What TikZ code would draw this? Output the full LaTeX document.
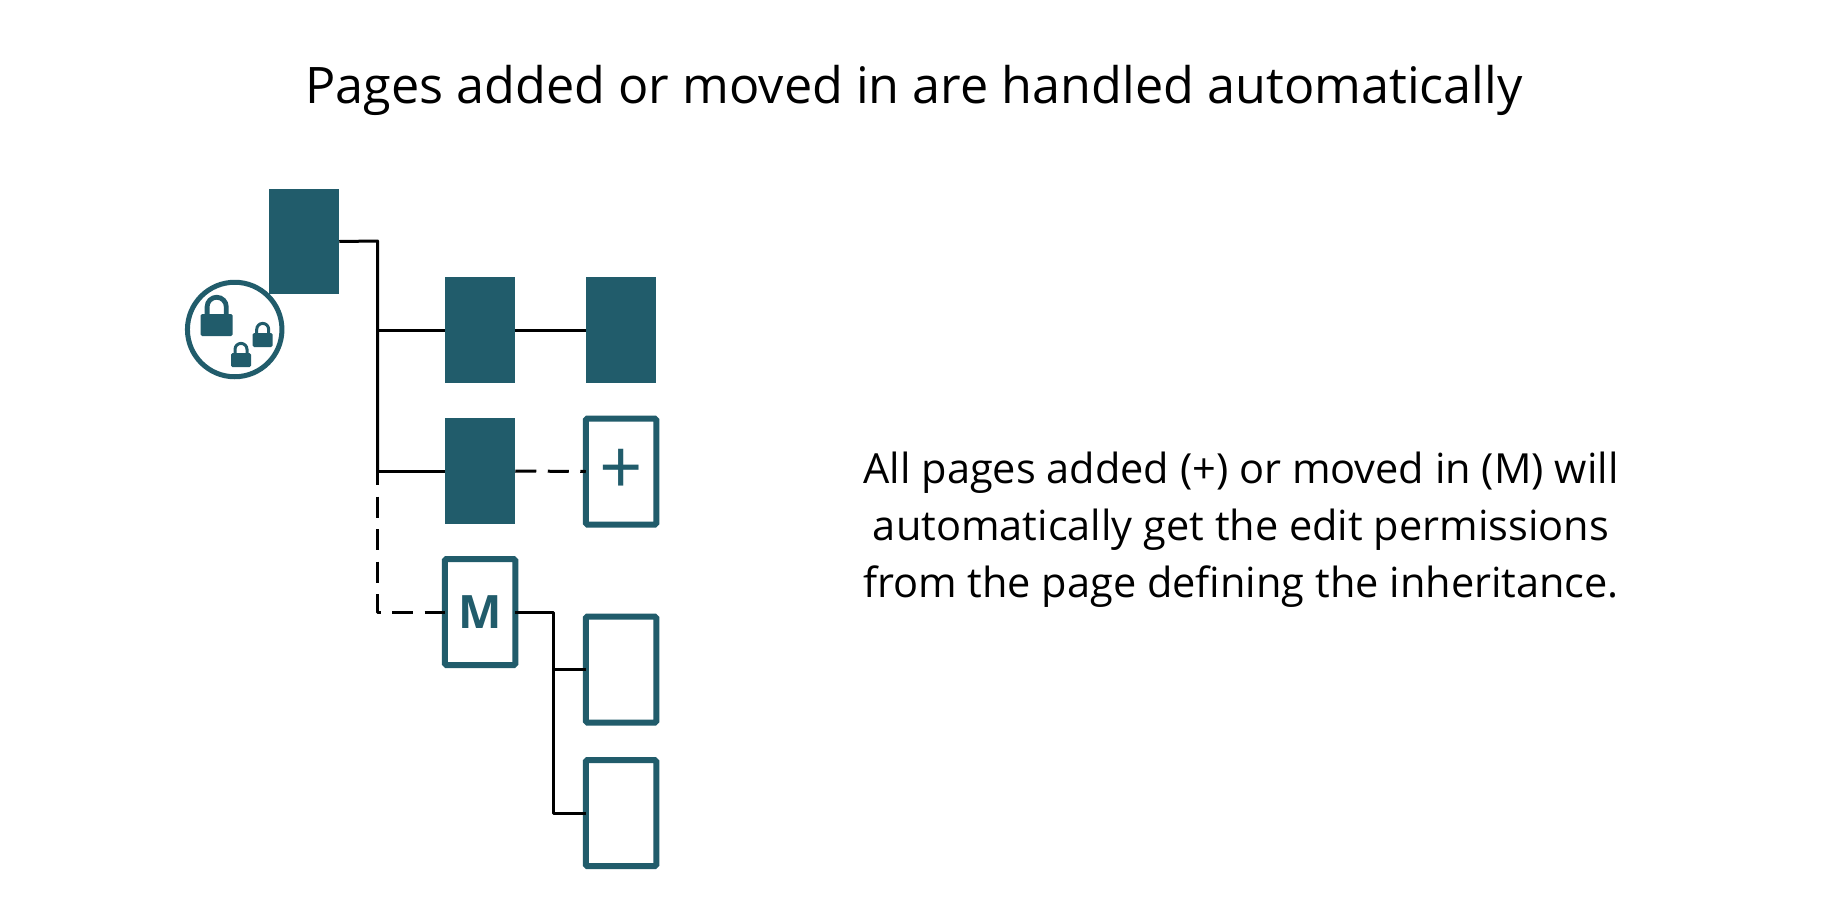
\documentclass[tikz,border=0pt]{standalone}
\usepackage{fontspec}
\setmainfont{Open Sans}
\definecolor{teal1}{HTML}{215C6B}
\tikzset{
  x=1pt,y=-1pt,
  pagefill/.style={fill=teal1,draw=none,minimum width=70.5pt,minimum height=105.5pt,inner sep=0pt,outer sep=0pt},
  pageline/.style={draw=teal1,fill=white,line width=6pt,rounded corners=1.5pt,minimum width=70.5pt,minimum height=106pt,inner sep=0pt,outer sep=0pt,text=teal1},
  conn/.style={black,line width=3pt},
  connd/.style={black,line width=3pt,dash pattern=on 21pt off 11.5pt},
}
\newcommand{\lockicon}[5]{% left, top of body, width, height, shackle top
  \draw[teal1,line width=#3*0.15pt] ({#1+#3*0.2},{#2+1}) -- ({#1+#3*0.2},{#5+#3*0.37}) arc[start angle=180,end angle=0,x radius=#3*0.3pt,y radius=#3*0.3pt] -- ({#1+#3*0.8},{#2+1});
  \fill[teal1,rounded corners=1.5pt] (#1,#2) rectangle ({#1+#3},{#2+#4});
}
\begin{document}
\begin{tikzpicture}
\useasboundingbox (0,0) rectangle (1840,900);
\fill[white] (0,0) rectangle (1840,900);

\node (title) at (914,90) {\fontsize{50.35}{60}\selectfont Pages added or moved in are handled automatically};
\node[align=center,font=\fontsize{41.5}{57}\selectfont] (body) at (1241,530) {All pages added (+) or moved in (M) will\\automatically get the edit permissions\\from the page defining the inheritance.};

\node[pagefill] (root) at (304,241.5) {};
\node[pagefill] (a1) at (480,330) {};
\node[pagefill] (a2) at (621,330) {};
\node[pagefill] (b1) at (480,471) {};
\node[pageline] (b2) at (621,471.5) {\raisebox{-5pt}{\fontsize{76}{76}\selectfont +}};
\node[pageline] (m) at (480,612) {\fontsize{46}{46}\selectfont\bfseries M};
\node[pageline] (c1) at (621,669.5) {};
\node[pageline] (c2) at (621,813.2) {};

\coordinate (t0) at (377.5,241);
\coordinate (t1) at (377.5,330);
\coordinate (t2) at (377.5,471);
\coordinate (t3) at (377.5,464);
\coordinate (t4) at (377.5,612);
\coordinate (s0) at (553.7,612);
\coordinate (s1) at (553.7,669.5);
\coordinate (s2) at (553.7,813.2);

\draw[conn,line join=round] (root.east) -- (t0) -- (t2);
\draw[conn] (t1) -- (a1.west);
\draw[conn] (a1.east) -- (a2.west);
\draw[conn] (t2) -- (b1.west);
\draw[connd] (b1.east) -- (b2.west);
\draw[connd,line join=round] (t3) -- (t4) -- (m.west);
\draw[conn,line join=round] (m.east) -- (s0) -- (s2) -- (c2.west);
\draw[conn] (s1) -- (c1.west);

\node[circle,draw=teal1,fill=white,line width=5pt,minimum size=94.5pt,inner sep=0pt] (lockring) at (234.7,329.5) {};
\lockicon{200.7}{314}{32}{22}{295}
\lockicon{252.7}{333}{20}{14}{322}
\lockicon{231}{353}{20}{14}{342}
\end{tikzpicture}
\end{document}
